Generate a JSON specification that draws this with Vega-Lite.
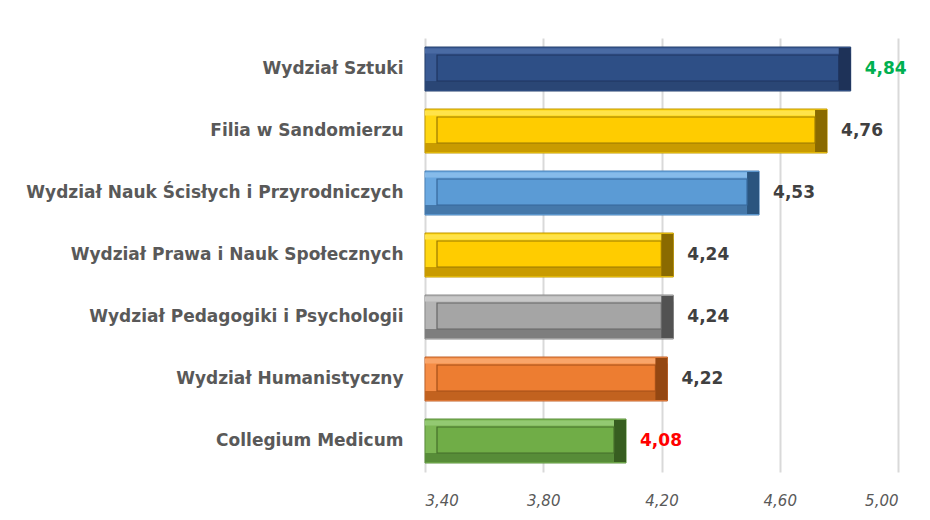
{
  "$schema": "https://vega.github.io/schema/vega-lite/v6.json",
  "width": 473,
  "height": 434,
  "autosize": {"type": "none"},
  "padding": {"left": 425, "top": 38, "right": 32, "bottom": 48},
  "background": "white",
  "config": {
    "locale": {"number": {"decimal": ",", "thousands": " ", "grouping": [3], "currency": ["", " zł"]}},
    "view": {"stroke": null},
    "font": "DejaVu Sans"
  },
  "data": {"values": [
    {"name": "Wydział Sztuki", "value": 4.84},
    {"name": "Filia w Sandomierzu", "value": 4.76},
    {"name": "Wydział Nauk Ścisłych i Przyrodniczych", "value": 4.53},
    {"name": "Wydział Prawa i Nauk Społecznych", "value": 4.24},
    {"name": "Wydział Pedagogiki i Psychologii", "value": 4.24},
    {"name": "Wydział Humanistyczny", "value": 4.22},
    {"name": "Collegium Medicum", "value": 4.08}
  ]},
  "encoding": {
    "y": {
      "field": "name", "type": "nominal", "sort": null, "title": null,
      "axis": {"domain": false, "ticks": false, "labelPadding": 22, "labelFontSize": 17, "labelFontWeight": "bold", "labelColor": "#595959", "labelLimit": 500, "labelFont": "DejaVu Sans"}
    },
    "x": {
      "field": "value", "type": "quantitative", "title": null,
      "scale": {"domain": [3.4, 5.0], "zero": false, "nice": false},
      "axis": {"values": [3.4, 3.8, 4.2, 4.6, 5.0], "format": ".2f", "domain": false, "ticks": false, "labelPadding": 21, "labelFontSize": 15, "labelFontStyle": "italic", "labelColor": "#595959", "gridColor": "#d9d9d9", "gridWidth": 2, "labelFont": "DejaVu Sans"}
    }
  },
  "layer": [
    {
      "mark": {"type": "bar", "size": 44, "strokeWidth": 1},
      "encoding": {
        "x2": {"datum": 3.4},
        "color": {"field": "name", "type": "nominal", "legend": null,
          "scale": {"domain": ["Wydział Sztuki", "Filia w Sandomierzu", "Wydział Nauk Ścisłych i Przyrodniczych", "Wydział Prawa i Nauk Społecznych", "Wydział Pedagogiki i Psychologii", "Wydział Humanistyczny", "Collegium Medicum"],
            "range": ["#3A5B94", "#FFD712", "#6AA8E0", "#FFD712", "#B4B4B4", "#F58C45", "#7DB755"]}},
        "stroke": {"field": "name", "type": "nominal", "legend": null,
          "scale": {"domain": ["Wydział Sztuki", "Filia w Sandomierzu", "Wydział Nauk Ścisłych i Przyrodniczych", "Wydział Prawa i Nauk Społecznych", "Wydział Pedagogiki i Psychologii", "Wydział Humanistyczny", "Collegium Medicum"],
            "range": ["#24406E", "#C09600", "#4A82B8", "#C09600", "#8A8A8A", "#C0622A", "#5A8F3A"]}},
        "opacity": {"value": 1}
      }
    },
    {
      "mark": {"type": "bar", "size": 5, "yOffset": -18},
      "encoding": {
        "x2": {"datum": 3.4},
        "color": {"field": "name", "type": "nominal", "legend": null,
          "scale": {"domain": ["Wydział Sztuki", "Filia w Sandomierzu", "Wydział Nauk Ścisłych i Przyrodniczych", "Wydział Prawa i Nauk Społecznych", "Wydział Pedagogiki i Psychologii", "Wydział Humanistyczny", "Collegium Medicum"],
            "range": ["#4A6BA4", "#FFE34A", "#86BBEA", "#FFE34A", "#C8C8C8", "#F9A56A", "#93C972"]}},
        "opacity": {"value": 1}
      }
    },
    {
      "mark": {"type": "bar", "size": 9, "yOffset": 16.5},
      "encoding": {
        "x2": {"datum": 3.4},
        "color": {"field": "name", "type": "nominal", "legend": null,
          "scale": {"domain": ["Wydział Sztuki", "Filia w Sandomierzu", "Wydział Nauk Ścisłych i Przyrodniczych", "Wydział Prawa i Nauk Społecznych", "Wydział Pedagogiki i Psychologii", "Wydział Humanistyczny", "Collegium Medicum"],
            "range": ["#2A4675", "#C99B00", "#4578AA", "#C99B00", "#7E7E7E", "#C2621F", "#578C38"]}},
        "opacity": {"value": 1}
      }
    },
    {
      "mark": {"type": "bar", "size": 42, "x2Offset": -12},
      "encoding": {
        "x2": {"field": "value"},
        "color": {"field": "name", "type": "nominal", "legend": null,
          "scale": {"domain": ["Wydział Sztuki", "Filia w Sandomierzu", "Wydział Nauk Ścisłych i Przyrodniczych", "Wydział Prawa i Nauk Społecznych", "Wydział Pedagogiki i Psychologii", "Wydział Humanistyczny", "Collegium Medicum"],
            "range": ["#1E3258", "#8A6A00", "#2B557F", "#8A6A00", "#525252", "#944712", "#375E20"]}},
        "opacity": {"value": 1}
      }
    },
    {
      "mark": {"type": "bar", "size": 26, "yOffset": -1, "xOffset": -12, "x2Offset": 12, "strokeWidth": 1.2},
      "encoding": {
        "x2": {"datum": 3.4},
        "color": {"field": "name", "type": "nominal", "legend": null,
          "scale": {"domain": ["Wydział Sztuki", "Filia w Sandomierzu", "Wydział Nauk Ścisłych i Przyrodniczych", "Wydział Prawa i Nauk Społecznych", "Wydział Pedagogiki i Psychologii", "Wydział Humanistyczny", "Collegium Medicum"],
            "range": ["#2E4F86", "#FFCC00", "#5B9BD5", "#FFCC00", "#A5A5A5", "#ED7D31", "#70AD47"]}},
        "stroke": {"field": "name", "type": "nominal", "legend": null,
          "scale": {"domain": ["Wydział Sztuki", "Filia w Sandomierzu", "Wydział Nauk Ścisłych i Przyrodniczych", "Wydział Prawa i Nauk Społecznych", "Wydział Pedagogiki i Psychologii", "Wydział Humanistyczny", "Collegium Medicum"],
            "range": ["#1F3560", "#9A7800", "#36679A", "#9A7800", "#666666", "#A34F18", "#456E2A"]}},
        "opacity": {"value": 1}
      }
    },
    {
      "mark": {"type": "text", "align": "left", "baseline": "middle", "dx": 14, "fontSize": 17, "fontWeight": "bold", "font": "DejaVu Sans"},
      "encoding": {
        "text": {"field": "value", "type": "quantitative", "format": ".2f"},
        "color": {"condition": [{"test": "datum.value == 4.84", "value": "#00B050"}, {"test": "datum.value == 4.08", "value": "#FF0000"}], "value": "#404040"}
      }
    }
  ],
  "resolve": {"scale": {"color": "independent", "stroke": "independent"}}
}
